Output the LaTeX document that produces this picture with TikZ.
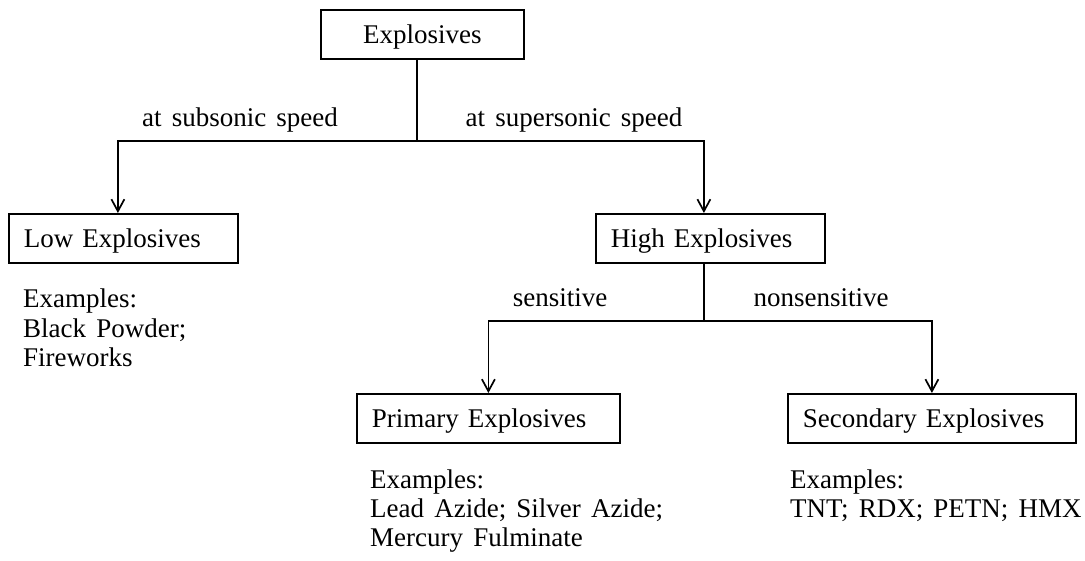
\documentclass[tikz,border=0pt]{standalone}
\usepackage{fontspec}
\setmainfont{Liberation Serif}[WordSpace=1.5]
\usetikzlibrary{arrows.meta}
\begin{document}
\begin{tikzpicture}[x=1pt,y=-1pt,
  every node/.style={font=\fontsize{27}{29.5}\selectfont},
  box/.style={draw, line width=1.8pt, anchor=north west, minimum height=49pt,
    inner xsep=15pt, inner ysep=0pt, text height=21pt, text depth=2pt, align=left},
  lbl/.style={anchor=base, inner sep=0pt},
  ex/.style={anchor=base west, inner sep=0pt},
  conn/.style={line width=1.7pt},
  arr/.style={conn, -{Straight Barb[length=12pt,width=13pt]}}]
\useasboundingbox (0,0) rectangle (1085,561);
% boxes
\node[box, text width=173pt, align=center] (top) at (320,9) {Explosives};
\node[box, text width=199pt] (low) at (8,213) {Low Explosives};
\node[box, text width=199pt] (high) at (595,213) {High Explosives};
\node[box, text width=233pt] (prim) at (356,393) {Primary Explosives};
\node[box, text width=258pt] (sec) at (787,393) {Secondary Explosives};
% connectors
\coordinate (t1) at ([xshift=-5.5pt]top.south);
\coordinate (j1) at (t1 |- 0,141);
\draw[conn] (t1) -- (j1);
\draw[arr] (j1) -| ([xshift=-5.5pt]low.north);
\draw[arr] (j1) -| ([xshift=-6.5pt]high.north);
\coordinate (h1) at ([xshift=-6.5pt]high.south);
\coordinate (j2) at (h1 |- 0,321);
\draw[conn] (h1) -- (j2);
\draw[arr] (j2) -| (prim.north);
\draw[arr] (j2) -| (sec.north);
% labels
\node[lbl] (lsub) at (240,127) {at subsonic speed};
\node[lbl] (lsup) at (574,127) {at supersonic speed};
\node[lbl] (lsen) at (560,307) {sensitive};
\node[lbl] (lnon) at (821,307) {nonsensitive};
% examples
\node[ex] (lx1) at (23,308) {Examples:};
\node[ex] (lx2) at (23,337.5) {Black Powder;};
\node[ex] (lx3) at (23,367) {Fireworks};
\node[ex] (px1) at (370,488) {Examples:};
\node[ex] (px2) at (370,517) {Lead Azide; Silver Azide;};
\node[ex] (px3) at (370,546) {Mercury Fulminate};
\node[ex] (sx1) at (790,488) {Examples:};
\node[ex] (sx2) at (790,517) {TNT; RDX; PETN; HMX};
\end{tikzpicture}
\end{document}
